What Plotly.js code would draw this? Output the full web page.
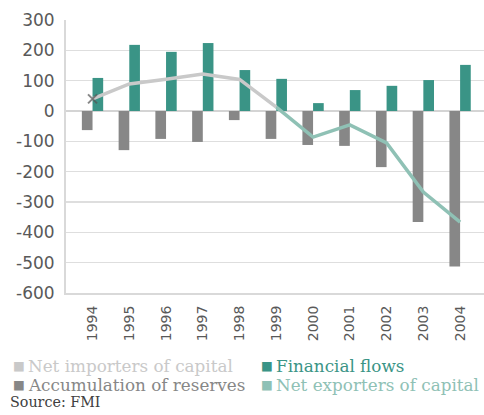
<!DOCTYPE html>
<html>
<head>
<meta charset="utf-8">
<script src="https://cdn.plot.ly/plotly-3.0.1.min.js"></script>
<style>html,body{margin:0;padding:0;background:#fff;}#chart{width:484px;height:415px;}</style>
</head>
<body>
<div id="chart"></div>
<script>
const years = ["1994","1995","1996","1997","1998","1999","2000","2001","2002","2003","2004"];
const reserves = [-63, -129, -92, -102, -30, -92, -112, -115, -185, -366, -513];
const financialFlows = [109, 218, 195, 224, 135, 106, 26, 69, 83, 102, 152];
const netImporters = [40, 89, 105, 122, 104, 13, null, null, null, null, null];
const netExporters = [null, null, null, null, null, 13, -86, -46, -105, -267, -366];
const yTicks = [300, 200, 100, 0, -100, -200, -300, -400, -500, -600];

const cTeal = "#3a9486", cGray = "#878787", cImp = "#c9c9c9", cExp = "#8fc1b5";

const traces = [
  {type: "bar", name: "Accumulation of reserves", x: years, y: reserves, marker: {color: cGray}},
  {type: "bar", name: "Financial flows", x: years, y: financialFlows, marker: {color: cTeal}},
  {type: "scatter", mode: "lines+markers", name: "Net importers of capital", x: years, y: netImporters,
   line: {color: cImp, width: 3.5},
   marker: {symbol: "x-thin", size: netImporters.map((v, i) => i === 0 ? 9 : 0), color: "#555", line: {color: "#555", width: 2}}},
  {type: "scatter", mode: "lines", name: "Net exporters of capital", x: years, y: netExporters,
   line: {color: cExp, width: 3.5}}
];

// plot area in pixels: left 66, right 484, top 20, bottom 293
const PL = 66, PW = 418, PB = 293, PH = 273;
const px = x => (x - PL) / PW;
const py = y => (PB - y) / PH;

const serif = "DejaVu Serif";
const legendItems = [
  {label: "Net importers of capital", color: cImp, x: 11, y: 365},
  {label: "Financial flows", color: cTeal, x: 259, y: 365},
  {label: "Accumulation of reserves", color: cGray, x: 11, y: 384},
  {label: "Net exporters of capital", color: cExp, x: 259, y: 384}
];
const annotations = [];
legendItems.forEach(it => {
  annotations.push({xref: "paper", yref: "paper", x: px(it.x), y: py(it.y), xanchor: "left", yanchor: "middle",
    text: "■", showarrow: false, font: {family: "DejaVu Sans", size: 12.5, color: it.color}});
  annotations.push({xref: "paper", yref: "paper", x: px(it.x + 15), y: py(it.y + 1), xanchor: "left", yanchor: "middle",
    text: it.label, showarrow: false, font: {family: serif, size: 16.8, color: it.color}});
});
annotations.push({xref: "paper", yref: "paper", x: px(8), y: py(402), xanchor: "left", yanchor: "middle",
  text: "Source: FMI", showarrow: false, font: {family: serif, size: 14.3, color: "#404040"}});

const layout = {
  width: 484, height: 415,
  margin: {l: 66, r: 0, t: 20, b: 122, pad: 0},
  paper_bgcolor: "#fff", plot_bgcolor: "#fff",
  showlegend: false,
  barmode: "group", bargap: 0.42, bargroupgap: 0,
  xaxis: {type: "category", tickangle: -90, showgrid: false, showline: true, linecolor: "#d9d9d9", linewidth: 2,
          tickfont: {family: "DejaVu Sans", size: 14, color: "#595959"}, ticks: "outside", ticklen: 5, tickcolor: "rgba(0,0,0,0)", automargin: false},
  yaxis: {range: [-600, 300], tickvals: yTicks, ticktext: yTicks.map(String), showgrid: true, gridcolor: "#dedede", gridwidth: 1.5,
          zeroline: true, zerolinecolor: "#d4d4d4", zerolinewidth: 2.5, showline: true, linecolor: "#d9d9d9", linewidth: 2,
          tickfont: {family: "DejaVu Sans", size: 17, color: "#595959"}, ticks: "outside", ticklen: 6, tickcolor: "rgba(0,0,0,0)", automargin: false},
  annotations: annotations,
  font: {family: "DejaVu Sans"}
};

Plotly.newPlot("chart", traces, layout, {displayModeBar: false, staticPlot: true});
</script>
</body>
</html>
